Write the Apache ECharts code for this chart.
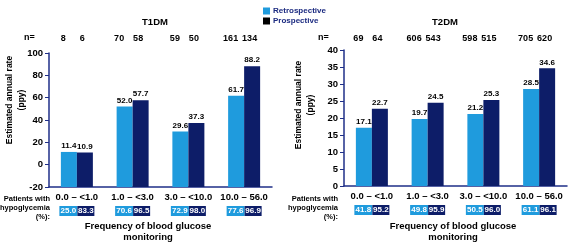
<!DOCTYPE html>
<html style="height: 100%">
<head>
<meta charset="utf-8">
</head>
<body style="height: 100%; margin: 0; background: #fff">
<div id="container" style="width: 568px; height: 247px"></div>
<script type="text/javascript" src="https://cdn.jsdelivr.net/npm/echarts@6/dist/echarts.min.js"></script>
<script type="text/javascript">
var categories = ['0.0 \u2013 <1.0', '1.0 \u2013 <3.0', '3.0 \u2013 <10.0', '10.0 \u2013 56.0'];

var t1Retro = [11.4, 52.0, 29.6, 61.7];
var t1Pro = [10.9, 57.7, 37.3, 88.2];
var t1NRetro = [8, 70, 59, 161];
var t1NPro = [6, 58, 50, 134];
var t1HypoRetro = [25.0, 70.6, 72.9, 77.6];
var t1HypoPro = [83.3, 96.5, 98.0, 96.9];

var t2Retro = [17.1, 19.7, 21.2, 28.5];
var t2Pro = [22.7, 24.5, 25.3, 34.6];
var t2NRetro = [69, 606, 598, 705];
var t2NPro = [64, 543, 515, 620];
var t2HypoRetro = [41.8, 49.8, 50.5, 61.1];
var t2HypoPro = [95.2, 95.9, 96.0, 96.1];

var t1Min = -20, t1Max = 100;
var t2Min = 0, t2Max = 40;

var light = '#1f9bdd';
var dark = '#0d1d68';
var axisColor = '#1f2f88';
var font = 'Liberation Sans, Arial, sans-serif';
var barW = 16;

var dom = document.getElementById('container');
var myChart = echarts.init(dom);

function bottomAxis(grid, hr, hp) {
    return {
        type: 'category',
        gridIndex: grid,
        data: categories,
        axisLine: { onZero: false, lineStyle: { color: axisColor, width: 1.5 } },
        axisTick: { length: 4, lineStyle: { color: axisColor, width: 1 } },
        axisLabel: {
            interval: 0,
            margin: 4,
            color: '#000',
            fontFamily: font,
            fontSize: 9.5,
            fontWeight: 'bold',
            lineHeight: 13,
            formatter: function (v, i) {
                return v + '\n{a|' + hr[i].toFixed(1) + '}{b|' + hp[i].toFixed(1) + '}';
            },
            rich: {
                a: { backgroundColor: light, color: '#fff', width: 18, height: 10, lineHeight: 14,
                     align: 'center', fontSize: 8, fontWeight: 'bold', fontFamily: font },
                b: { backgroundColor: dark, color: '#fff', width: 17, height: 10, lineHeight: 14,
                     align: 'center', fontSize: 8, fontWeight: 'bold', fontFamily: font }
            }
        }
    };
}

function topAxis(grid, nr, np, margin) {
    return {
        type: 'category',
        gridIndex: grid,
        position: 'top',
        data: categories,
        axisLine: { show: false },
        axisTick: { show: false },
        axisLabel: {
            interval: 0,
            margin: margin,
            padding: [0, 8, 0, 0],
            formatter: function (v, i) {
                return '{n|' + nr[i] + '}{n|' + np[i] + '}';
            },
            rich: {
                n: { width: 19, align: 'center', color: '#000', fontSize: 9,
                     fontWeight: 'bold', fontFamily: font }
            }
        }
    };
}

function valueAxis(grid, min, max, interval) {
    return {
        type: 'value',
        gridIndex: grid,
        min: min,
        max: max,
        interval: interval,
        splitLine: { show: false },
        axisLine: { show: true, lineStyle: { color: axisColor, width: 1.5 } },
        axisTick: { show: true, length: 4, lineStyle: { color: axisColor } },
        axisLabel: { color: '#000', fontFamily: font, fontSize: 9.5, fontWeight: 'bold', margin: 6 }
    };
}

// bars drawn from the axis minimum (the T1DM panel's bars rise from -20)
function barSeries(name, color, data, grid, side, base) {
    return {
        name: name,
        type: 'custom',
        xAxisIndex: grid,
        yAxisIndex: grid,
        itemStyle: { color: color },
        data: data.map(function (v, i) { return [i, v]; }),
        encode: { x: 0, y: 1 },
        renderItem: function (params, api) {
            var top = api.coord([api.value(0), api.value(1)]);
            var bottom = api.coord([api.value(0), base]);
            var x = side < 0 ? top[0] - barW : top[0];
            return {
                type: 'rect',
                shape: { x: x, y: top[1], width: barW, height: bottom[1] - top[1] },
                style: { fill: color },
                textContent: {
                    style: {
                        text: api.value(1).toFixed(1),
                        fill: '#000',
                        font: 'bold 8px ' + font
                    }
                },
                textConfig: { position: 'top', distance: 2 }
            };
        }
    };
}

function txt(x, y, text, opts) {
    var style = {
        text: text,
        fill: '#000',
        font: 'bold 9px ' + font,
        textAlign: 'center',
        textVerticalAlign: 'middle'
    };
    for (var k in opts) style[k] = opts[k];
    return { type: 'text', x: x, y: y, style: style };
}

var option = {
    animation: false,
    legend: {
        orient: 'vertical',
        left: 258,
        top: 2,
        itemWidth: 7,
        itemHeight: 7,
        itemGap: 2,
        textStyle: { color: '#1b2a80', fontFamily: font, fontSize: 8, fontWeight: 'bold', padding: [0, 0, 0, -2] },
        data: [
            { name: 'Retrospective', icon: 'rect', itemStyle: { color: light } },
            { name: 'Prospective', icon: 'rect', itemStyle: { color: '#000' } }
        ]
    },
    grid: [
        { left: 49, top: 53, width: 223, height: 134 },
        { left: 344, top: 50, width: 223, height: 136 }
    ],
    xAxis: [
        bottomAxis(0, t1HypoRetro, t1HypoPro),
        bottomAxis(1, t2HypoRetro, t2HypoPro),
        topAxis(0, t1NRetro, t1NPro, 10),
        topAxis(1, t2NRetro, t2NPro, 7)
    ],
    yAxis: [
        valueAxis(0, t1Min, t1Max, 20),
        valueAxis(1, t2Min, t2Max, 5)
    ],
    series: [
        barSeries('Retrospective', light, t1Retro, 0, -1, t1Min),
        barSeries('Prospective', dark, t1Pro, 0, 1, t1Min),
        barSeries('Retrospective', light, t2Retro, 1, -1, t2Min),
        barSeries('Prospective', dark, t2Pro, 1, 1, t2Min)
    ],
    graphic: [
        txt(155, 22, 'T1DM', { font: 'bold 9.5px ' + font }),
        txt(445, 22, 'T2DM', { font: 'bold 9.5px ' + font }),
        txt(24, 38, 'n=', { textAlign: 'left', font: 'bold 9px ' + font }),
        txt(318, 38, 'n=', { textAlign: 'left', font: 'bold 9px ' + font }),
        { type: 'text', x: 16, y: 100, rotation: Math.PI / 2,
          style: { text: 'Estimated annual rate\n(ppy)', fill: '#000', font: 'bold 8.5px ' + font,
                   textAlign: 'center', textVerticalAlign: 'middle', lineHeight: 12 } },
        { type: 'text', x: 305, y: 105, rotation: Math.PI / 2,
          style: { text: 'Estimated annual rate\n(ppy)', fill: '#000', font: 'bold 8.5px ' + font,
                   textAlign: 'center', textVerticalAlign: 'middle', lineHeight: 12 } },
        txt(50, 208, 'Patients with\nhypoglycemia\n(%):', { textAlign: 'right', font: 'bold 7.5px ' + font, lineHeight: 9 }),
        txt(338, 208, 'Patients with\nhypoglycemia\n(%):', { textAlign: 'right', font: 'bold 7.5px ' + font, lineHeight: 9 }),
        txt(148, 232, 'Frequency of blood glucose\nmonitoring', { font: 'bold 9.5px ' + font, lineHeight: 11 }),
        txt(453, 232, 'Frequency of blood glucose\nmonitoring', { font: 'bold 9.5px ' + font, lineHeight: 11 })
    ]
};

if (option && typeof option === 'object') {
    myChart.setOption(option);
}
</script>
</body>
</html>
